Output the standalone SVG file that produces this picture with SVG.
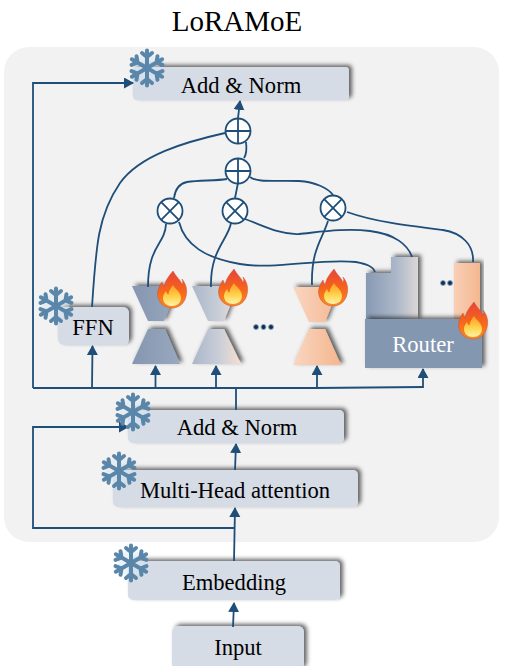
<svg xmlns="http://www.w3.org/2000/svg" xmlns:xlink="http://www.w3.org/1999/xlink" width="512" height="666" viewBox="0 0 512 666">
<style>
.box{fill:#d6dce5;filter:url(#sh)}
.shp{filter:url(#sh)}
.t{font-family:"Liberation Serif","Times New Roman",serif;font-size:22.600px;fill:#000;text-anchor:middle}
.c{fill:none;stroke:#1f4e79;stroke-width:1.800}
.a{marker-end:url(#ah)}
.op circle{fill:#fff;stroke:#1f4e79;stroke-width:1.800}
.op path{fill:none;stroke:#1f4e79;stroke-width:1.800}
.d{fill:#0e2f52;stroke:#8fa6bd;stroke-width:1}
</style>
<defs>
<filter id="sh" x="-15%" y="-30%" width="130%" height="160%"><feDropShadow dx="3" dy="-2" stdDeviation="2.200" flood-color="#000" flood-opacity=".6"/></filter>
<marker id="ah" markerUnits="userSpaceOnUse" markerWidth="12" markerHeight="12" refX="9" refY="5.500" orient="auto"><path d="M0 0L10 5.500L0 11Z" fill="#1f4e79"/></marker>
<linearGradient id="g1" gradientUnits="userSpaceOnUse" x1="132" x2="180" y1="0" y2="0"><stop offset="0" stop-color="#8696b0"/><stop offset="1" stop-color="#98a8bf"/></linearGradient>
<linearGradient id="g2" gradientUnits="userSpaceOnUse" x1="192" x2="241" y1="0" y2="0"><stop offset="0" stop-color="#a9b6c9"/><stop offset=".55" stop-color="#c9ced8"/><stop offset="1" stop-color="#f6dfd0"/></linearGradient>
<linearGradient id="g3" gradientUnits="userSpaceOnUse" x1="293" x2="341" y1="0" y2="0"><stop offset="0" stop-color="#f9d6c1"/><stop offset="1" stop-color="#f5b68f"/></linearGradient>
<linearGradient id="g4" gradientUnits="userSpaceOnUse" x1="366" x2="418" y1="0" y2="0"><stop offset="0" stop-color="#8899b3"/><stop offset=".6" stop-color="#adb9ca"/><stop offset="1" stop-color="#dcd6d6"/></linearGradient>
<linearGradient id="g5" gradientUnits="userSpaceOnUse" x1="454" x2="480" y1="0" y2="0"><stop offset="0" stop-color="#f8cfb6"/><stop offset="1" stop-color="#f4b78f"/></linearGradient>
<linearGradient id="fo" x1="0" y1="0" x2="0" y2="1"><stop offset="0" stop-color="#e8433a"/><stop offset=".5" stop-color="#f5631c"/><stop offset="1" stop-color="#fb8a1e"/></linearGradient>
<linearGradient id="fi" x1="0" y1="0" x2="0" y2="1"><stop offset="0" stop-color="#ff9a26"/><stop offset=".55" stop-color="#ffd24a"/><stop offset="1" stop-color="#fff3a8"/></linearGradient>
<g id="arm"><path d="M0 0V-17.500M-5 -15L0 -11L5 -15" fill="none" stroke="#5a86aa" stroke-width="4" stroke-linecap="round"/></g>
<g id="snow">
<circle r="13" fill="#d5e6f3" opacity=".45"/>
<use xlink:href="#arm" href="#arm"/>
<use xlink:href="#arm" href="#arm" transform="rotate(60)"/>
<use xlink:href="#arm" href="#arm" transform="rotate(120)"/>
<use xlink:href="#arm" href="#arm" transform="rotate(180)"/>
<use xlink:href="#arm" href="#arm" transform="rotate(240)"/>
<use xlink:href="#arm" href="#arm" transform="rotate(300)"/>
</g>
<g id="fire">
<path d="M1 -19C4 -13 9 -10 10 -5C11 -8 11 -9 10 -11C14 -6 15 -1 14.500 3C14 12 8 18 0 18C-9 18 -14.500 11 -14.500 4C-14.500 -1 -12 -5 -10 -8C-9.500 -6 -9 -4 -7.500 -3C-7.500 -9 -3 -14 1 -19Z" fill="url(#fo)" stroke="#c9503a" stroke-width=".5"/>
<path d="M1 -5C3 -1 9 2 9 8C9 13 5 16 0 16C-5 16 -9 13 -9 8C-9 5 -7.500 3 -6 1C-5.500 3 -5 4 -3.500 4.500C-3.500 1 -1 -2 1 -5Z" fill="url(#fi)"/>
</g>
</defs>

<text x="237" y="31" class="t" style="font-size:29px">LoRAMoE</text>
<rect id="panel" x="4" y="47" width="495" height="495" rx="25" fill="#f2f2f2"/>

<g id="add-norm-top"><rect class="box" x="133" y="67" width="216" height="33" rx="4"/><text class="t" x="241" y="93">Add &amp; Norm</text></g>
<g id="ffn"><rect class="box" x="58" y="307" width="71" height="38" rx="6"/><text class="t" x="93" y="335">FFN</text></g>

<g id="expert1">
<path class="shp" fill="url(#g1)" d="M132 286H178L164 321H148Z"/>
<path class="shp" fill="url(#g1)" d="M148 329H165L180 364H132Z"/>
</g>
<g id="expert2">
<path class="shp" fill="url(#g2)" d="M192 286H238L224 321H208Z"/>
<path class="shp" fill="url(#g2)" d="M208 329H224L241 364H192Z"/>
</g>
<g id="expert3">
<path class="shp" fill="url(#g3)" d="M293 287H339L325 322H309Z"/>
<path class="shp" fill="url(#g3)" d="M309 329H325L341 365H293Z"/>
</g>
<g id="dots">
<circle class="d" cx="256" cy="327" r="2.500"/><circle class="d" cx="263.500" cy="327" r="2.500"/><circle class="d" cx="271" cy="327" r="2.500"/>
<circle class="d" cx="443" cy="283" r="2.500"/><circle class="d" cx="450" cy="283" r="2.500"/>
</g>
<g id="router">
<path class="shp" fill="url(#g4)" d="M366 273H391V257H418V320H366Z"/>
<rect class="shp" x="454" y="263" width="26" height="57" fill="url(#g5)"/>
<rect class="shp" x="365" y="319" width="117" height="49" fill="#8497b0"/>
<text class="t" x="423" y="352" style="fill:#fff">Router</text>
</g>

<g id="add-norm-low"><rect class="box" x="128" y="410" width="216" height="33" rx="5"/><text class="t" x="237" y="435">Add &amp; Norm</text></g>
<g id="multi-head"><rect class="box" x="113" y="470" width="245" height="37" rx="5"/><text class="t" x="235" y="498">Multi-Head attention</text></g>
<g id="embedding"><rect class="box" x="128" y="561" width="212" height="39" rx="5"/><text class="t" x="234" y="590">Embedding</text></g>
<g id="input"><rect class="box" x="172" y="626" width="132" height="44" rx="6"/><text class="t" x="238" y="655">Input</text></g>

<g id="connectors">
<path class="c" d="M33 388H316L423 387"/>
<path class="c a" d="M33 388V83H133"/>
<path class="c a" d="M92 388L92.500 346"/>
<path class="c a" d="M155.500 388V366"/>
<path class="c a" d="M216 388V366"/>
<path class="c a" d="M317 388V366"/>
<path class="c a" d="M423 388V369"/>
<path class="c" d="M236 410V388"/>
<path class="c a" d="M234 561L235 508"/>
<path class="c a" d="M235 528H33V427H128"/>
<path class="c a" d="M235 470L236 444"/>
<path class="c a" d="M233 627L234 603"/>
<path class="c a" d="M238 118L240 101"/>
<path class="c" d="M92 307C96 245 98 215 120 183C140 155 185 142 225 133"/>
<path class="c" d="M246 142C247 150 246 155 244 158"/>
<path class="c" d="M238 183L235 198"/>
<path class="c" d="M227 179C215 181 200 180 187 182C178 184 175 190 174 198"/>
<path class="c" d="M250 177C258 183 275 180 299 181C315 182 328 188 333 195"/>
<path class="c" d="M166 224C165 245 148 245 148 287"/>
<path class="c" d="M231 223C228 240 210 250 211 287"/>
<path class="c" d="M328 221C322 240 311 250 312 285"/>
<path class="c" d="M179 222C185 245 205 258 240 264C275 270 320 258 356 262C366 264 373 266 375 272"/>
<path class="c" d="M245 219C262 225 280 235 299 234C320 232 345 228 370 231C395 234 408 245 412 257"/>
<path class="c" d="M347 212C375 222 410 226 443 230C462 233 474 245 473 262"/>
</g>

<g id="op-plus-1" class="op"><circle cx="238" cy="131" r="12.500"/><path d="M225.500 131H250.500M238 118.500V143.500"/></g>
<g id="op-plus-2" class="op"><circle cx="238" cy="171" r="12.500"/><path d="M225.500 171H250.500M238 158.500V183.500"/></g>
<g id="op-mul-1" class="op"><circle cx="170" cy="211" r="12.500"/><path d="M161.200 202.200L178.800 219.800M178.800 202.200L161.200 219.800"/></g>
<g id="op-mul-2" class="op"><circle cx="235" cy="211" r="12.500"/><path d="M226.200 202.200L243.800 219.800M243.800 202.200L226.200 219.800"/></g>
<g id="op-mul-3" class="op"><circle cx="333" cy="208" r="12.500"/><path d="M324.200 199.200L341.800 216.800M341.800 199.200L324.200 216.800"/></g>

<g id="flames">
<use xlink:href="#fire" href="#fire" x="172" y="290"/>
<use xlink:href="#fire" href="#fire" x="233" y="288"/>
<use xlink:href="#fire" href="#fire" x="333" y="288"/>
<use xlink:href="#fire" href="#fire" x="473" y="321"/>
</g>
<g id="snowflakes">
<use xlink:href="#snow" href="#snow" x="147" y="68"/>
<use xlink:href="#snow" href="#snow" x="56" y="306"/>
<use xlink:href="#snow" href="#snow" x="133" y="412"/>
<use xlink:href="#snow" href="#snow" x="119" y="471"/>
<use xlink:href="#snow" href="#snow" x="131" y="563"/>
</g>
</svg>
